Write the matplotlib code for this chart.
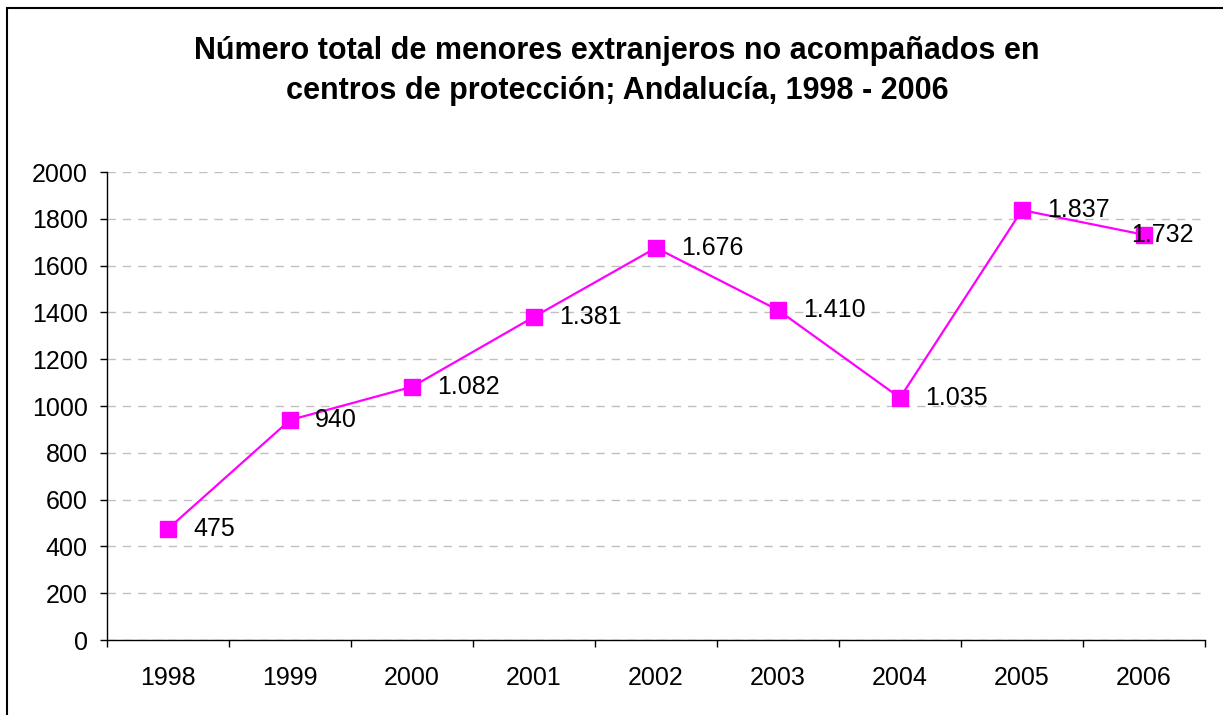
import matplotlib
matplotlib.use("Agg")
import matplotlib.pyplot as plt
from matplotlib.patches import Rectangle
import numpy as np

years = ["1998", "1999", "2000", "2001", "2002", "2003", "2004", "2005", "2006"]
values = [475, 940, 1082, 1381, 1676, 1410, 1035, 1837, 1732]
yticks = [0, 200, 400, 600, 800, 1000, 1200, 1400, 1600, 1800, 2000]
title = "Número total de menores extranjeros no acompañados en\ncentros de protección; Andalucía, 1998 - 2006"

plt.rcParams['font.family'] = ['Liberation Sans', 'DejaVu Sans']

fig = plt.figure(figsize=(12.23, 7.15), dpi=100)
W, H = 1223, 715
ax = fig.add_axes([107 / W, (H - 640) / H, (1205 - 107) / W, (640 - 172) / H])

x = np.arange(len(years))
ax.plot(x, values, color='#FF00FF', linewidth=1.6, marker='s', markersize=11,
        markerfacecolor='#FF00FF', markeredgecolor='#FF00FF', zorder=3)

for i, (xi, v) in enumerate(zip(x, values)):
    lab = f"{v:,}".replace(",", ".")
    dx = 18 if i < len(values) - 1 else -9  # last label pushed left to stay inside chart
    ax.annotate(lab, (xi, v), xytext=(dx, 0), textcoords='offset points',
                ha='left', va='center', fontsize=18, color='black', zorder=4)

ax.set_xlim(-0.5, len(years) - 0.5)
ax.set_ylim(0, 2000)
ax.set_yticks(yticks)
ax.set_yticklabels([str(t) for t in yticks], fontsize=18)
ax.set_xticks(x)
ax.set_xticklabels(years, fontsize=18)
ax.set_xticks(np.arange(-0.5, len(years), 1.0), minor=True)
ax.tick_params(axis='x', which='major', length=0, pad=19)
ax.tick_params(axis='x', which='minor', length=5, width=1, color='black', direction='out')
ax.tick_params(axis='y', length=5, width=1, direction='out', pad=9)

ax.grid(axis='y', color='#C0C0C0', linestyle=(0, (6, 5)), linewidth=1)
ax.set_axisbelow(True)
for s in ['top', 'right']:
    ax.spines[s].set_visible(False)
for s in ['left', 'bottom']:
    ax.spines[s].set_color('black')
    ax.spines[s].set_linewidth(1)

fig.text(617 / W, 1 - 71 / H, title, ha='center', va='center', fontsize=22,
         fontweight='bold', linespacing=1.45)

fig.patches.append(Rectangle((7 / W, -0.1), 1.2, 1 - 8 / H + 0.1, transform=fig.transFigure,
                             fill=False, edgecolor='black', linewidth=1.5))

fig.savefig("out.png", dpi=100)
